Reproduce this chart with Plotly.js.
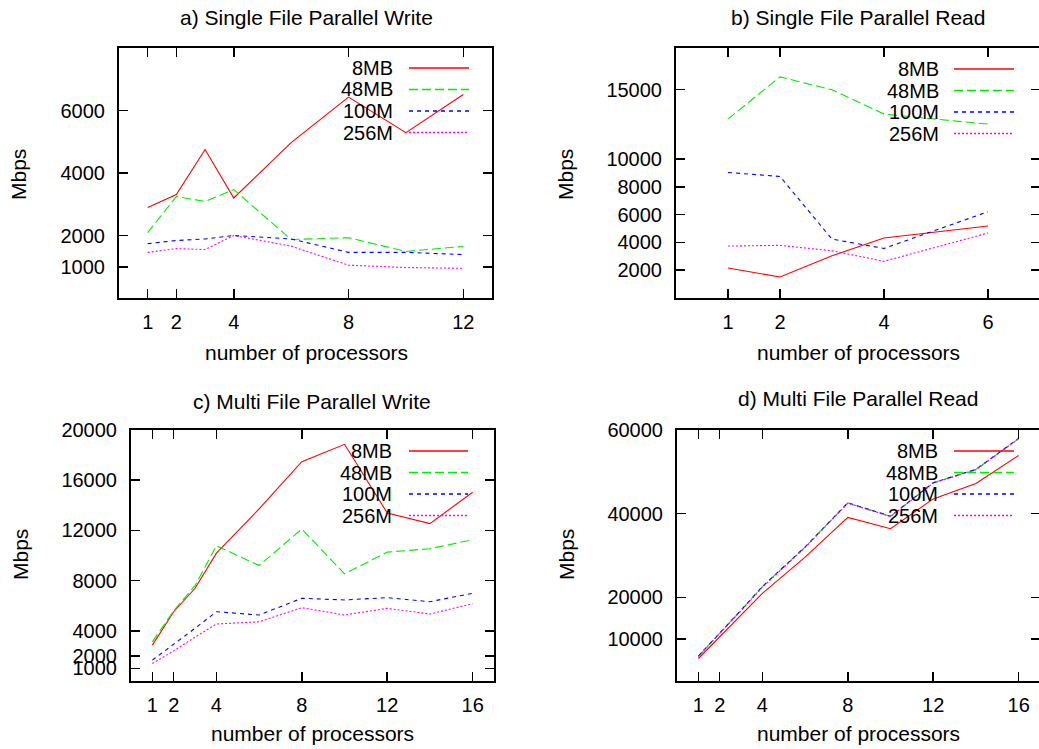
<!DOCTYPE html>
<html>
<head>
<meta charset="utf-8">
<script src="https://cdn.plot.ly/plotly-3.0.1.min.js"></script>
<style>
html,body{margin:0;padding:0;overflow:hidden;background:#fff;}
#chart{width:1041px;height:749px;}
</style>
</head>
<body>
<div id="chart"></div>
<script>
// ---- data ----
const seriesNames = ['8MB', '48MB', '100M', '256M'];

// a) Single File Parallel Write
const xA = [1, 2, 3, 4, 6, 8, 10, 12];
const a8MB  = [2900, 3310, 4750, 3200, 4970, 6430, 5290, 6510];
const a48MB = [2090, 3250, 3090, 3470, 1870, 1930, 1490, 1650];
const a100M = [1740, 1840, 1890, 2000, 1890, 1460, 1460, 1390];
const a256M = [1460, 1580, 1550, 2000, 1660, 1050, 975, 950];

// b) Single File Parallel Read
const xB = [1, 2, 3, 4, 6];
const b8MB  = [2160, 1510, 3040, 4320, 5180];
const b48MB = [12880, 15920, 14990, 13240, 12520];
const b100M = [9040, 8750, 4240, 3570, 6210];
const b256M = [3740, 3790, 3400, 2640, 4680];

// c) Multi File Parallel Write
const xC = [1, 2, 3, 4, 6, 8, 10, 12, 14, 16];
const c8MB  = [2860, 5520, 7390, 10190, 13710, 17470, 18860, 13390, 12540, 15040];
const c48MB = [3120, 5600, 7600, 10780, 9200, 12110, 8540, 10270, 10540, 11260];
const c100M = [1660, 2900, 4200, 5520, 5260, 6590, 6460, 6640, 6320, 6990];
const c256M = [1390, 2400, 3500, 4540, 4720, 5840, 5260, 5790, 5340, 6160];

// d) Multi File Parallel Read
const xD = [1, 2, 3, 4, 6, 8, 10, 12, 14, 16];
const d8MB  = [5380, 10560, 15700, 20970, 29610, 39120, 36400, 43530, 47200, 53920];
const d48MB = [5930, 11370, 16900, 22560, 32010, 42570, 39360, 47370, 50570, 57930];
const d100M = [5950, 11400, 16950, 22600, 32050, 42600, 39400, 47400, 50600, 58000];
const d256M = [5900, 11300, 16800, 22400, 31900, 42500, 39300, 47300, 50500, 57900];

// ticks
const xTicksA = [1, 2, 4, 8, 12];
const xTicksB = [1, 2, 4, 6];
const xTicksC = [1, 2, 4, 8, 12, 16];
const xTicksD = [1, 2, 4, 8, 12, 16];
const yTicksA = [1000, 2000, 4000, 6000];
const yTicksB = [2000, 4000, 6000, 8000, 10000, 15000];
const yTicksC = [1000, 2000, 4000, 8000, 12000, 16000, 20000];
const yTicksD = [10000, 20000, 40000, 60000];

const titles = ['a) Single File Parallel Write', 'b) Single File Parallel Read',
                'c) Multi File Parallel Write', 'd) Multi File Parallel Read'];
const xTitle = 'number of processors';
const yTitle = 'Mbps';

// ---- layout helpers ----
const W = 1041, H = 749;
const px = x => x / W;
const py = y => 1 - y / H;
const FONT = 'Liberation Sans, Arial, Helvetica, sans-serif';

const styles = [
  {color: '#ff0000', dash: 'solid'},
  {color: '#00ee00', dash: '9px,4px'},
  {color: '#0000ff', dash: '4px,4px'},
  {color: '#ff00ff', dash: '2px,2px'}
];

const panels = [
  {x: xA, ys: [a8MB, a48MB, a100M, a256M], xt: xTicksA, yt: yTicksA, xr: [0, 13], yr: [0, 8000],
   box: [119, 492, 48, 298], title: [306, 18], xlab: [306, 352], ylab: [18, 175],
   leg: {tr: 395, l0: 409, l1: 469, top: 68}},
  {x: xB, ys: [b8MB, b48MB, b100M, b256M], xt: xTicksB, yt: yTicksB, xr: [0, 7], yr: [0, 18000],
   box: [676, 1040, 48, 298], title: [858, 18], xlab: [858, 352], ylab: [565, 175],
   leg: {tr: 941, l0: 954, l1: 1014, top: 69}},
  {x: xC, ys: [c8MB, c48MB, c100M, c256M], xt: xTicksC, yt: yTicksC, xr: [0, 17], yr: [0, 20000],
   box: [131, 494, 430, 681], title: [312, 401], xlab: [312, 733], ylab: [20, 555],
   leg: {tr: 394, l0: 409, l1: 468, top: 451}},
  {x: xD, ys: [d8MB, d48MB, d100M, d256M], xt: xTicksD, yt: yTicksD, xr: [0, 17], yr: [0, 60000],
   box: [677, 1040, 430, 681], title: [858, 399], xlab: [858, 733], ylab: [566, 555],
   leg: {tr: 940, l0: 954, l1: 1014, top: 451}}
];

const traces = [];
const layout = {
  width: W, height: H,
  margin: {l: 0, r: 0, t: 0, b: 0, pad: 0},
  paper_bgcolor: '#fff', plot_bgcolor: '#fff',
  showlegend: false,
  font: {family: FONT, size: 19, color: '#000'},
  annotations: [], shapes: []
};

panels.forEach((p, i) => {
  const n = i + 1;
  const xa = n === 1 ? 'x' : 'x' + n;
  const ya = n === 1 ? 'y' : 'y' + n;
  p.ys.forEach((yv, s) => {
    traces.push({
      x: p.x, y: yv, type: 'scatter', mode: 'lines', name: seriesNames[s],
      xaxis: xa, yaxis: ya, hoverinfo: 'skip',
      line: {color: styles[s].color, width: 1.1, dash: styles[s].dash}
    });
  });
  const common = {
    showline: true, linecolor: '#000', linewidth: 2, mirror: 'ticks',
    ticks: 'inside', ticklen: 9, tickwidth: 1.5, tickcolor: '#000',
    showgrid: false, zeroline: false, fixedrange: true,
    tickmode: 'array', tickfont: {family: FONT, size: 20, color: '#000'}
  };
  layout['xaxis' + (n === 1 ? '' : n)] = Object.assign({}, common, {
    domain: [px(p.box[0]), px(p.box[1])], range: p.xr, anchor: ya,
    tickvals: p.xt, ticktext: p.xt.map(String), ticklabelstandoff: 5
  });
  layout['yaxis' + (n === 1 ? '' : n)] = Object.assign({}, common, {
    domain: [py(p.box[3]), py(p.box[2])], range: p.yr, anchor: xa,
    tickvals: p.yt, ticktext: p.yt.map(String), ticklabelstandoff: 8
  });
  layout.annotations.push({
    text: titles[i], xref: 'paper', yref: 'paper', x: px(p.title[0]), y: py(p.title[1]),
    xanchor: 'center', yanchor: 'middle', showarrow: false, font: {family: FONT, size: 21, color: '#000'}
  });
  layout.annotations.push({
    text: xTitle, xref: 'paper', yref: 'paper', x: px(p.xlab[0]), y: py(p.xlab[1]),
    xanchor: 'center', yanchor: 'middle', showarrow: false, font: {family: FONT, size: 21, color: '#000'}
  });
  layout.annotations.push({
    text: yTitle, xref: 'paper', yref: 'paper', x: px(p.ylab[0]), y: py(p.ylab[1]), textangle: -90,
    xanchor: 'center', yanchor: 'middle', showarrow: false, font: {family: FONT, size: 21, color: '#000'}
  });
  seriesNames.forEach((nm, s) => {
    const yy = p.leg.top + s * 21.5;
    layout.annotations.push({
      text: nm, xref: 'paper', yref: 'paper', x: px(p.leg.tr), y: py(yy),
      xanchor: 'right', yanchor: 'middle', showarrow: false, font: {family: FONT, size: 20, color: '#000'}
    });
    layout.shapes.push({
      type: 'line', xref: 'paper', yref: 'paper', x0: px(p.leg.l0), x1: px(p.leg.l1), y0: py(yy), y1: py(yy),
      line: {color: styles[s].color, width: 1.5, dash: styles[s].dash}
    });
  });
});

Plotly.newPlot('chart', traces, layout, {staticPlot: true, displayModeBar: false});
</script>
</body>
</html>
